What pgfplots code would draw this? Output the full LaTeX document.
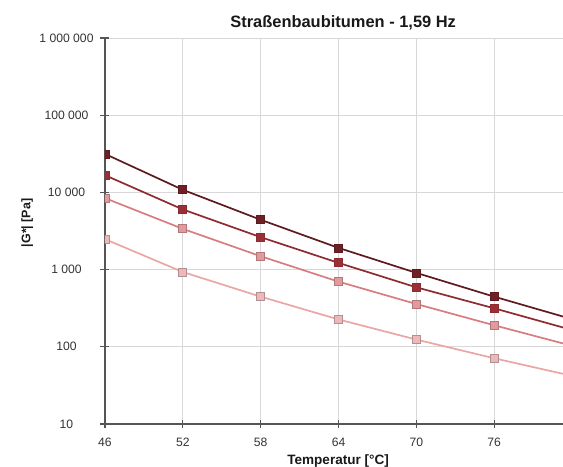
\documentclass[border=0pt]{standalone}
\usepackage{fontspec}
\setmainfont{Liberation Sans}
\usepackage{pgfplots}
\pgfplotsset{compat=1.18}
\definecolor{sA}{HTML}{5E1A1E}
\definecolor{sAf}{HTML}{6E2025}
\definecolor{sB}{HTML}{8E2B30}
\definecolor{sBf}{HTML}{9A3035}
\definecolor{sC}{HTML}{D97C80}
\definecolor{sCf}{HTML}{E39A9C}
\definecolor{sCd}{HTML}{B07878}
\definecolor{sD}{HTML}{EAA6A6}
\definecolor{sDf}{HTML}{EFB8B8}
\definecolor{sDd}{HTML}{B09090}
\definecolor{axisgray}{HTML}{555555}
\definecolor{gridgray}{HTML}{D8D8D8}
\begin{document}
\begin{tikzpicture}
\begin{axis}[
  scale only axis, width=458bp, height=386bp,
  xmin=46, xmax=81.3, ymode=log, ymin=10, ymax=1000000,
  axis lines*=left,
  xtick={46,52,58,64,70,76}, xticklabels={46,52,58,64,70,76},
  ytick={10,100,1000,10000,100000,1000000},
  yticklabels={10,100,1~000,10~000,100~000,1~000~000},
  yminorticks=false, xminorticks=false,
  grid=major, major grid style={color=gridgray, line width=0.9bp},
  tick align=center, major tick length=9bp,
  every tick/.style={color=axisgray, line width=1.3bp},
  axis line style={color=axisgray, line width=1.6bp},
  tick label style={font=\fontsize{12.2}{14}\selectfont, color=black!80},
  yticklabel style={anchor=center, xshift=-34bp},
  xticklabel style={yshift=-6bp},
  xlabel={Temperatur [°C]}, ylabel={|G*| [Pa]},
  label style={color=black!90},
  xlabel style={font=\bfseries\fontsize{13.6}{15}\selectfont, at={(rel axis cs:0.509,-0.097)}, anchor=center},
  ylabel style={font=\bfseries\fontsize{12.5}{14}\selectfont, at={(rel axis cs:-0.170,0.521)}, anchor=center, rotate=0},
  title={Straßenbaubitumen - 1,59 Hz},
  title style={font=\bfseries\fontsize{16.5}{18}\selectfont, color=black!90, at={(rel axis cs:0.52,1.024)}, anchor=center},
  clip marker paths=true,
  every axis plot/.append style={line width=1.7bp, mark=square*, mark size=4bp},
]
\addplot[color=sA, mark options={fill=sAf, draw=sA, line width=0.8bp}] coordinates {(46,31500) (52,10800) (58,4420) (64,1910) (70,906) (76,446) (82,228)};
\addplot[color=sB, mark options={fill=sBf, draw=sB, line width=0.8bp}] coordinates {(46,16700) (52,6010) (58,2630) (64,1222) (70,589) (76,315) (82,165)};
\addplot[color=sC, mark options={fill=sCf, draw=sCd, line width=0.8bp}] coordinates {(46,8430) (52,3370) (58,1490) (64,698) (70,358) (76,190) (82,103)};
\addplot[color=sD, mark options={fill=sDf, draw=sDd, line width=0.8bp}] coordinates {(46,2480) (52,930) (58,446) (64,226) (70,124) (76,71) (82,42)};
\end{axis}
\pgfresetboundingbox
\useasboundingbox ([shift={(-105bp,-43bp)}]current axis.south west) rectangle ([shift={(0bp,38bp)}]current axis.north east);
\end{tikzpicture}
\end{document}
